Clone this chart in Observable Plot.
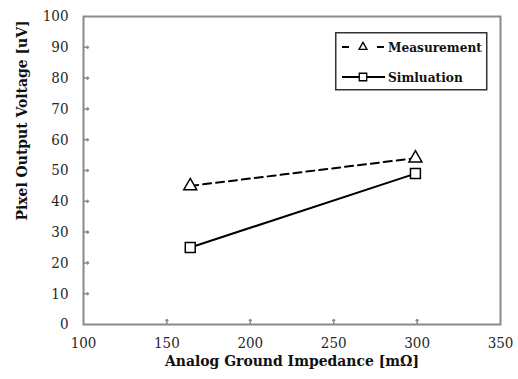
<!DOCTYPE html>
<html>
<head>
<meta charset="utf-8">
<script src="https://cdn.jsdelivr.net/npm/d3@7"></script>
<script src="https://cdn.jsdelivr.net/npm/@observablehq/plot@0.6"></script>
<style>
  html, body { margin: 0; padding: 0; background: #fff; }
  #wrap { position: relative; width: 518px; height: 379px; }
  #legend { position: absolute; left: 335px; top: 32px; }
  #wrap text { font-family: "DejaVu Serif Condensed", "DejaVu Serif", serif !important; font-stretch: condensed; }
</style>
</head>
<body>
<div id="wrap"><div id="legend"></div></div>
<script>
// ---- data ----
const impedance = [164, 299];          // mΩ
const measurement = [45, 54];          // uV
const simulation = [25, 49];           // uV
const seriesNames = ["Measurement", "Simluation"];
const xTicks = [100, 150, 200, 250, 300, 350];
const yTicks = [0, 10, 20, 30, 40, 50, 60, 70, 80, 90, 100];
const xTitle = "Analog Ground Impedance [mΩ]";
const yTitle = "Pixel Output Voltage [uV]";

const meas = impedance.map((x, i) => ({x, y: measurement[i]}));
const sim = impedance.map((x, i) => ({x, y: simulation[i]}));

const font = "DejaVu Serif Condensed";
const axisGray = "#898989";

const chart = Plot.plot({
  width: 518,
  height: 379,
  marginLeft: 83,
  marginRight: 18,
  marginTop: 16,
  marginBottom: 55,
  style: {fontFamily: font, fontSize: "15px", color: "#262626", background: "#fff"},
  x: {domain: [100, 350]},
  y: {domain: [0, 100]},
  marks: [
    Plot.frame({stroke: axisGray, strokeWidth: 2}),
    // inward ticks
    Plot.vector(xTicks.slice(1, -1), {x: d => d, y: 0, length: 5, rotate: 0, anchor: "start", stroke: axisGray, strokeWidth: 1.5}),
    Plot.vector(yTicks.slice(1, -1), {x: 100, y: d => d, length: 5, rotate: 90, anchor: "start", stroke: axisGray, strokeWidth: 1.5}),
    Plot.axisX({ticks: xTicks, tickSize: 0, tickPadding: 13, label: null, fontSize: 15, fontFamily: font}),
    Plot.axisY({ticks: yTicks, tickSize: 0, tickPadding: 15, label: null, fontSize: 15, fontFamily: font}),
    Plot.text([xTitle], {frameAnchor: "bottom", dy: 41, fontWeight: "bold", fontSize: 15.5, fill: "#111", fontFamily: font}),
    Plot.text([yTitle], {frameAnchor: "left", rotate: -90, dx: -61, dy: 50, fontWeight: "bold", fontSize: 15.5, fill: "#111", fontFamily: font}),
    Plot.line(meas, {x: "x", y: "y", stroke: "#000", strokeWidth: 2, strokeDasharray: "8,5"}),
    Plot.line(sim, {x: "x", y: "y", stroke: "#000", strokeWidth: 2}),
    Plot.dot(meas, {x: "x", y: "y", symbol: "triangle", r: 4.8, fill: "#fff", stroke: "#000", strokeWidth: 1.5}),
    Plot.dot(sim, {x: "x", y: "y", symbol: "square", r: 5.6, fill: "#fff", stroke: "#000", strokeWidth: 1.5})
  ]
});
document.getElementById("wrap").prepend(chart);

// ---- legend ----
const lg = d3.select("#legend").append("svg").attr("width", 153).attr("height", 59);
lg.append("rect").attr("x", 0.75).attr("y", 0.75).attr("width", 151).attr("height", 57)
  .attr("fill", "#fff").attr("stroke", "#333").attr("stroke-width", 1.5);
const rows = [
  {name: seriesNames[0], segs: [[7, 14], [42, 49]], sym: d3.symbolTriangle, size: 28, cy: 15},
  {name: seriesNames[1], segs: [[7, 50]], sym: d3.symbolSquare, size: 56, cy: 45}
];
rows.forEach(r => {
  r.segs.forEach(([a, b]) => {
    lg.append("line").attr("x1", a).attr("x2", b).attr("y1", r.cy).attr("y2", r.cy)
      .attr("stroke", "#000").attr("stroke-width", 2);
  });
  lg.append("path").attr("d", d3.symbol(r.sym, r.size)()).attr("transform", `translate(28,${r.cy})`)
    .attr("fill", "#fff").attr("stroke", "#000").attr("stroke-width", 1.3);
  lg.append("text").attr("x", 53).attr("y", r.cy).attr("dy", "0.35em")
    .attr("font-family", font).attr("font-size", 13.5).attr("font-weight", "bold").attr("fill", "#111").text(r.name);
});
</script>
</body>
</html>
